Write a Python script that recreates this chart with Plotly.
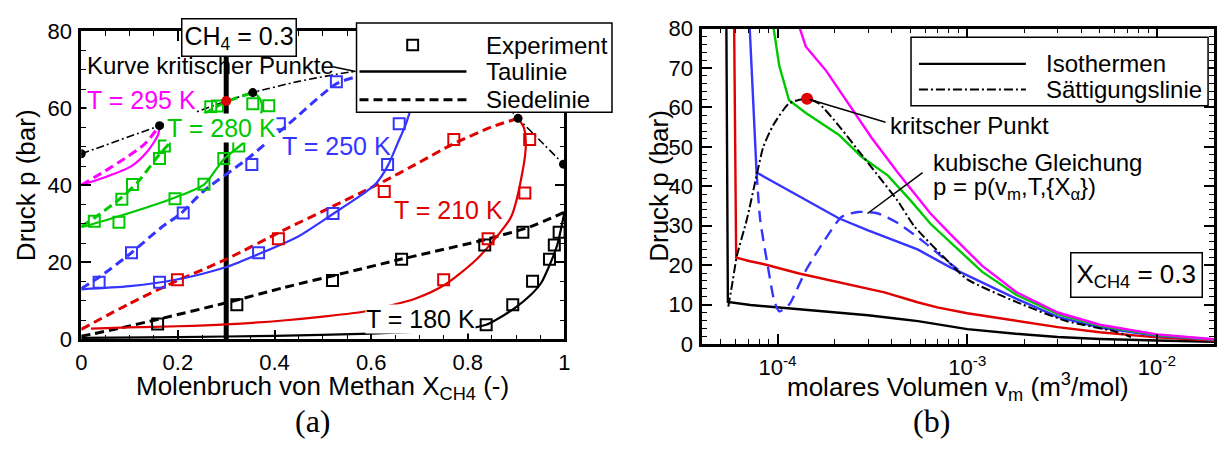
import math
import plotly.graph_objects as go

W, H = 1221, 452
SANS = "Liberation Sans, Arial, Helvetica, sans-serif"
SERIF = "Liberation Serif, Times New Roman, serif"

BLACK = "#000000"
RED = "#e00000"
BLUE = "#3535ff"
GREEN = "#00c800"
MAGENTA = "#ff00ff"

# ================= panel (a): mole fraction CH4 vs pressure =================
X_MIX = 0.3  # composition of the mixture (thick vertical line)

# curve of critical points
CRIT_X = [0.0, 0.162, 0.30, 0.355, 0.45, 0.555, 0.64, 0.75, 0.84, 0.904, 0.95, 0.998]
CRIT_P = [48.2, 55.5, 61.9, 64.1, 67.0, 69.4, 70.6, 70.2, 66.0, 57.4, 51.6, 45.5]
CRIT_DOT_X = [0.0, 0.162, 0.355, 0.64, 0.904, 0.998]
CRIT_DOT_P = [48.2, 55.5, 64.1, 70.6, 57.4, 45.5]
MIX_CRIT_X = [0.30]
MIX_CRIT_P = [61.9]

# T = 180 K
DEW_180_X = [0.0, 0.2, 0.4, 0.6, 0.7, 0.8, 0.838, 0.856, 0.897, 0.93, 0.952, 0.97, 0.985, 1.0]
DEW_180_P = [0.4, 0.6, 0.9, 1.5, 2.0, 2.8, 3.8, 4.9, 8.1, 11.5, 14.7, 19.5, 24.5, 33.0]
BUB_180_X = [0.0, 0.08, 0.162, 0.30, 0.418, 0.55, 0.661, 0.842, 0.93, 1.0]
BUB_180_P = [0.8, 2.9, 5.3, 9.5, 13.4, 17.4, 20.8, 26.1, 29.3, 33.0]
EXP_180_X = [0.158, 0.322, 0.52, 0.663, 0.835, 0.914, 0.838, 0.893, 0.934, 0.969, 0.979, 0.989]
EXP_180_P = [4.0, 9.0, 15.3, 20.8, 24.5, 27.8, 3.8, 9.0, 15.1, 20.8, 24.5, 27.8]

# T = 210 K
DEW_210_X = [0.02, 0.1, 0.2, 0.3, 0.418, 0.5, 0.589, 0.692, 0.754, 0.815, 0.856, 0.89, 0.914, 0.92, 0.916, 0.904]
DEW_210_P = [2.8, 3.1, 3.4, 3.9, 4.9, 5.9, 7.3, 10.6, 14.3, 20.4, 26.1, 31.9, 44.1, 50.5, 55.0, 57.4]
BUB_210_X = [0.0, 0.1, 0.2, 0.3, 0.418, 0.5, 0.624, 0.7, 0.767, 0.85, 0.904]
BUB_210_P = [2.6, 9.3, 15.3, 20.8, 28.3, 33.3, 40.9, 46.0, 50.6, 55.2, 57.4]
EXP_210_X = [0.199, 0.408, 0.627, 0.75, 0.842, 0.771, 0.928, 0.918]
EXP_210_P = [15.5, 26.1, 38.4, 15.5, 26.1, 51.9, 51.9, 38.0]

# T = 250 K
DEW_250_X = [0.0, 0.1, 0.2, 0.3, 0.37, 0.45, 0.52, 0.58, 0.61, 0.634, 0.655, 0.672, 0.684, 0.69, 0.68, 0.66, 0.64]
DEW_250_P = [13.0, 13.8, 15.6, 18.8, 22.3, 26.8, 32.5, 37.5, 40.5, 45.0, 51.0, 56.0, 61.0, 65.0, 68.5, 70.0, 70.6]
BUB_250_X = [0.0, 0.04, 0.104, 0.165, 0.207, 0.254, 0.343, 0.425, 0.528, 0.569, 0.61, 0.64]
BUB_250_P = [13.2, 16.4, 22.5, 29.0, 32.8, 38.6, 46.8, 55.5, 66.4, 68.2, 69.6, 70.6]
EXP_250_X = [0.037, 0.104, 0.162, 0.211, 0.353, 0.367, 0.41, 0.521, 0.528, 0.634, 0.658]
EXP_250_P = [14.8, 22.5, 14.8, 32.8, 45.4, 22.5, 56.0, 32.7, 66.9, 45.4, 56.0]

# T = 280 K
DEW_280_X = [0.0, 0.076, 0.193, 0.254, 0.295, 0.336, 0.36, 0.372, 0.373, 0.365, 0.355]
DEW_280_P = [29.1, 31.9, 36.8, 40.2, 46.8, 51.1, 55.0, 58.5, 61.5, 63.3, 64.1]
BUB_280_X = [0.0, 0.03, 0.083, 0.118, 0.165, 0.2, 0.254, 0.3, 0.355]
BUB_280_P = [29.3, 31.8, 36.8, 41.0, 48.5, 53.0, 58.5, 61.7, 64.1]
EXP_280_X = [0.027, 0.078, 0.084, 0.106, 0.162, 0.172, 0.194, 0.254, 0.268, 0.282, 0.295, 0.326, 0.355, 0.388]
EXP_280_P = [30.7, 30.4, 36.4, 40.2, 47.0, 50.2, 36.5, 40.3, 60.4, 60.6, 47.0, 50.2, 61.2, 60.7]

# T = 295 K
DEW_295_X = [0.0, 0.049, 0.104, 0.138, 0.159, 0.162]
DEW_295_P = [40.1, 42.1, 45.0, 49.0, 53.1, 55.5]
BUB_295_X = [0.0, 0.049, 0.09, 0.131, 0.162]
BUB_295_P = [40.1, 43.7, 47.0, 50.7, 55.5]

# ================= panel (b): molar volume vs pressure =================
V_180 = [5.37e-5, 5.47e-5, 7.2e-5, 1.0e-4, 1.94e-4, 3.0e-4, 4.3e-4, 5.5e-4, 1.0e-3, 1.8e-3, 3.0e-3, 5.0e-3, 1.0e-2, 2.0e-2]
P_180 = [82, 10.7, 9.9, 9.3, 7.95, 7.3, 6.4, 5.8, 3.8, 2.6, 1.8, 1.3, 0.9, 0.6]
V_210 = [5.9e-5, 6.05e-5, 7.16e-5, 8.4e-5, 1.3e-4, 2.37e-4, 3.66e-4, 5.47e-4, 6.95e-4, 1.0e-3, 1.81e-3, 3.0e-3, 5.0e-3, 1.0e-2, 2.0e-2]
P_210 = [82, 21.9, 21.0, 20.3, 17.9, 15.1, 13.1, 10.6, 9.3, 7.8, 5.9, 4.3, 3.0, 1.7, 0.9]
V_250 = [7.1e-5, 7.75e-5, 1.0e-4, 1.5e-4, 2.1e-4, 3.0e-4, 5.47e-4, 8.1e-4, 1.2e-3, 1.81e-3, 3.0e-3, 5.0e-3, 1.0e-2, 2.0e-2]
P_250 = [82, 43.5, 40.5, 35.8, 31.9, 28.8, 24.0, 19.5, 15.5, 11.5, 6.9, 4.2, 2.1, 1.05]
V_CUBIC = [7.75e-5, 8.1e-5, 8.9e-5, 9.6e-5, 1.02e-4, 1.15e-4, 1.41e-4, 1.79e-4, 2.18e-4, 2.66e-4, 3.39e-4, 4.3e-4, 5.9e-4, 7.8e-4, 9.5e-4]
P_CUBIC = [43.5, 31.5, 19.5, 11.0, 8.3, 10.0, 18.7, 26.7, 32.3, 33.5, 33.1, 30.7, 25.9, 21.1, 17.9]
V_280 = [9.4e-5, 1.02e-4, 1.15e-4, 1.41e-4, 2.1e-4, 2.77e-4, 3.82e-4, 5.05e-4, 6.4e-4, 8.1e-4, 1.2e-3, 1.81e-3, 3.0e-3, 5.0e-3, 1.0e-2, 2.0e-2]
P_280 = [82, 70.6, 61.8, 58.6, 53.1, 47.5, 42.7, 36.3, 30.5, 26.0, 18.3, 12.5, 7.6, 4.6, 2.3, 1.15]
V_295 = [1.27e-4, 1.41e-4, 1.79e-4, 2.02e-4, 2.46e-4, 3.13e-4, 4.3e-4, 6.4e-4, 8.1e-4, 1.2e-3, 1.81e-3, 3.0e-3, 5.0e-3, 1.0e-2, 2.0e-2]
P_295 = [82, 75.4, 69.5, 65.8, 59.8, 52.3, 43.5, 33.1, 28.0, 19.8, 13.2, 8.0, 4.9, 2.45, 1.23]
V_SAT = [5.5e-5, 5.8e-5, 6.1e-5, 6.88e-5, 7.75e-5, 8.4e-5, 9.46e-5, 1.15e-4, 1.43e-4, 1.65e-4, 2.1e-4, 2.66e-4, 3.39e-4, 4.3e-4, 5.25e-4, 8.1e-4, 1.0e-3, 1.81e-3, 3.3e-3, 6.0e-3, 7.3e-3]
P_SAT = [9.5, 16.0, 22.3, 31.5, 42.7, 49.9, 55.4, 61.0, 62.2, 61.0, 55.4, 49.1, 42.7, 36.3, 29.9, 20.5, 16.4, 10.7, 5.9, 3.2, 1.8]
V_CRIT_MIX = [1.43e-4]
P_CRIT_MIX = [62.2]

V_TICKS = [1e-4, 1e-3, 1e-2]
V_TICKTEXT = ["10<sup>-4</sup>", "10<sup>-3</sup>", "10<sup>-2</sup>"]

# ---------------------------------------------------------------------------
def px(x):
    return x / W


def py(y):
    return 1 - y / H


fig = go.Figure()

DASH = "9px,5px"


def line(x, y, color, width=2.2, dash="solid", xa="x", ya="y", shape="spline", smoothing=0.7):
    kw = dict(shape=shape)
    if shape == "spline":
        kw["smoothing"] = smoothing
    fig.add_trace(go.Scatter(x=x, y=y, mode="lines", xaxis=xa, yaxis=ya,
                             line=dict(color=color, width=width, dash=dash, **kw),
                             showlegend=False, hoverinfo="skip"))


def squares(x, y, color):
    fig.add_trace(go.Scatter(x=x, y=y, mode="markers",
                             marker=dict(symbol="square-open", size=11, color=color,
                                         line=dict(width=2, color=color)),
                             showlegend=False, hoverinfo="skip"))


# ---- panel (a) traces
line([X_MIX, X_MIX], [0, 80], BLACK, width=5, shape="linear")
line(CRIT_X, CRIT_P, BLACK, width=1.6, dash="8px,3px,2px,3px")

iso = [
    (DEW_180_X, DEW_180_P, BUB_180_X, BUB_180_P, BLACK),
    (DEW_210_X, DEW_210_P, BUB_210_X, BUB_210_P, RED),
    (DEW_250_X, DEW_250_P, BUB_250_X, BUB_250_P, BLUE),
    (DEW_280_X, DEW_280_P, BUB_280_X, BUB_280_P, GREEN),
    (DEW_295_X, DEW_295_P, BUB_295_X, BUB_295_P, MAGENTA),
]
for dx, dp, bx, bp, c in iso:
    line(dx, dp, c, width=2.2)
    line(bx, bp, c, width=3, dash=DASH)

squares(EXP_180_X, EXP_180_P, BLACK)
squares(EXP_210_X, EXP_210_P, RED)
squares(EXP_250_X, EXP_250_P, BLUE)
squares(EXP_280_X, EXP_280_P, GREEN)

fig.add_trace(go.Scatter(x=CRIT_DOT_X, y=CRIT_DOT_P, mode="markers",
                         marker=dict(size=9, color=BLACK), showlegend=False, hoverinfo="skip"))
fig.add_trace(go.Scatter(x=MIX_CRIT_X, y=MIX_CRIT_P, mode="markers",
                         marker=dict(size=10, color=RED), showlegend=False, hoverinfo="skip"))

# ---- panel (b) traces
for v, p, c in [(V_180, P_180, BLACK), (V_210, P_210, RED), (V_250, P_250, BLUE),
                (V_280, P_280, GREEN), (V_295, P_295, MAGENTA)]:
    line(v, p, c, width=2.4, xa="x2", ya="y2", shape="linear")
line(V_CUBIC, P_CUBIC, BLUE, width=2.4, dash="12px,7px", xa="x2", ya="y2", shape="spline", smoothing=0.6)
line(V_SAT, P_SAT, BLACK, width=2, dash="9px,3px,2px,3px", xa="x2", ya="y2", shape="spline", smoothing=0.6)
fig.add_trace(go.Scatter(x=V_CRIT_MIX, y=P_CRIT_MIX, mode="markers", xaxis="x2", yaxis="y2",
                         marker=dict(size=12, color=RED), showlegend=False, hoverinfo="skip"))

# ---- axes
common = dict(showgrid=False, zeroline=False, showline=True, linecolor=BLACK, linewidth=2.5,
              mirror="ticks", ticks="inside", ticklen=10, tickwidth=1.5, tickcolor=BLACK,
              tickfont=dict(family=SANS, size=22, color=BLACK))
minor_common = dict(ticks="inside", ticklen=5, tickwidth=1.2, tickcolor=BLACK, showgrid=False)

lo = [math.log10(4e-5), math.log10(0.02)]
minor_vals = [k * 10 ** e for e in (-5, -4, -3, -2) for k in range(2, 10)]

fig.update_layout(
    width=W, height=H, margin=dict(l=0, r=0, t=0, b=0),
    paper_bgcolor="white", plot_bgcolor="white", showlegend=False,
    font=dict(family=SANS, color=BLACK),
    xaxis=dict(domain=[px(76), px(564)], range=[0, 1], tickvals=[0, 0.2, 0.4, 0.6, 0.8, 1],
               ticktext=["0", "0.2", "0.4", "0.6", "0.8", "1"], ticklabelstandoff=2,
               minor=dict(dtick=0.05, **minor_common), anchor="y", **common),
    yaxis=dict(domain=[py(346.5), py(20.5)], range=[0, 80], tickvals=[0, 20, 40, 60, 80],
               ticklabelstandoff=2,
               minor=dict(dtick=5, **minor_common), anchor="x", **common),
    xaxis2=dict(domain=[px(703), px(1220)], type="log", range=lo, tickvals=V_TICKS, ticktext=V_TICKTEXT,
                ticklabelstandoff=2,
                minor=dict(tickmode="array", tickvals=minor_vals, **minor_common), anchor="y2", **common),
    yaxis2=dict(domain=[py(351.5), py(17.5)], range=[0, 80], tickvals=list(range(0, 81, 10)),
                ticklabelstandoff=2,
                minor=dict(dtick=2, **minor_common), anchor="x2", **common),
)

ann = []


def text(x, y, s, size=24, color=BLACK, xanchor="center", yanchor="middle", angle=0,
         bg=None, border=None, pad=0, family=SANS):
    d = dict(xref="paper", yref="paper", x=px(x), y=py(y), text=s, showarrow=False,
             xanchor=xanchor, yanchor=yanchor, textangle=angle,
             font=dict(family=family, size=size, color=color), borderpad=pad)
    if bg:
        d["bgcolor"] = bg
    if border:
        d["bordercolor"] = border
        d["borderwidth"] = 1.5
    ann.append(d)


# axis titles
text(320, 397, "Molenbruch von Methan X<sub>CH4</sub> (-)", size=26)
text(21, 183.5, "Druck p (bar)", size=26, angle=-90)
text(961.5, 397, "molares Volumen v<sub>m</sub> (m<sup>3</sup>/mol)", size=26)
text(660, 184.5, "Druck p (bar)", size=26, angle=-90)
text(310, 433, "(a)", size=32, family=SERIF)
text(935, 433, "(b)", size=32, family=SERIF)

# panel (a) labels
text(235.5, 26.5, "CH<sub>4</sub> = 0.3", size=25, bg="white", border=BLACK, pad=2)
text(81, 57, "Kurve kritischer Punkte", size=24, xanchor="left")
text(137, 93, "T = 295 K", size=25, color=MAGENTA, bg="white")
text(218, 123, "T = 280 K", size=25, color=GREEN, bg="white")
text(334, 142, "T = 250 K", size=25, color=BLUE)
text(447, 210, "T = 210 K", size=25, color=RED)
text(419, 325, "T = 180 K", size=25, color=BLACK, bg="white")

# legend (a)
text(484, 35, "Experiment", size=24, xanchor="left")
text(484, 63, "Taulinie", size=24, xanchor="left")
text(484, 93, "Siedelinie", size=24, xanchor="left")

# panel (b) labels
text(892, 120, "kritscher Punkt", size=24, xanchor="left")
text(935, 159, "kubische Gleichung", size=24, xanchor="left")
text(935, 187, "p = p(v<sub>m</sub>,T,{X<sub>α</sub>})", size=24, xanchor="left")
text(1142, 278, "X<sub>CH4</sub> = 0.3", size=26, bg="white", border=BLACK, pad=5)

# legend (b)
text(1049, 55, "Isothermen", size=24, xanchor="left")
text(1049, 82, "Sättigungslinie", size=24, xanchor="left")

shapes = []


def seg(x0, y0, x1, y1, width=1.5, dash="solid"):
    shapes.append(dict(type="line", xref="paper", yref="paper", x0=px(x0), y0=py(y0),
                       x1=px(x1), y1=py(y1), line=dict(color=BLACK, width=width, dash=dash),
                       layer="above"))


def box(x0, y0, x1, y1, width=1.5, fill="white"):
    shapes.append(dict(type="rect", xref="paper", yref="paper", x0=px(x0), y0=py(y0),
                       x1=px(x1), y1=py(y1), line=dict(color=BLACK, width=width),
                       fillcolor=fill, layer="above"))


# leader lines
seg(330, 58, 353, 63)
seg(811.7, 92.7, 888.3, 116.7)
seg(925.7, 170, 870, 213.3)

# legend (a) box
box(354, 11.7, 612, 106)
shapes.append(dict(type="rect", xref="paper", yref="paper", x0=px(405.2), y0=py(29.5),
                   x1=px(416.2), y1=py(40.5), line=dict(color=BLACK, width=2),
                   fillcolor="rgba(0,0,0,0)", layer="above"))
seg(357, 63, 465, 63, width=2.5)
seg(357, 93, 465, 93, width=3, dash=DASH)

# legend (b) box
box(914, 26.7, 1214, 99.3)
seg(922, 55, 1030, 55, width=2.2)
seg(922, 82, 1030, 82, width=2, dash="9px,3px,2px,3px")

fig.update_layout(annotations=ann, shapes=shapes)
fig.write_html("out.html")
